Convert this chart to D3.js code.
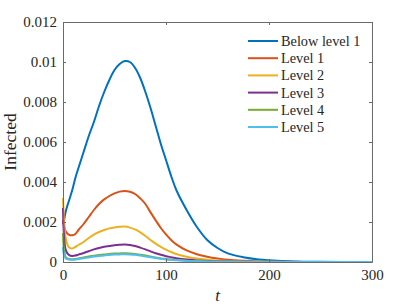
<!DOCTYPE html>
<html><head><meta charset="utf-8">
<script src="https://cdn.jsdelivr.net/npm/d3@7"></script>
<style>body{margin:0;background:#fff}svg{display:block}text{font-family:"Liberation Serif","Times New Roman",serif;fill:#262626}</style>
</head><body><svg id="c" width="411" height="308"></svg>
<script>
const tVals = [0,1,3,6,9,12,15,20,25,30,35,40,45,50,55,60,65,70,75,80,85,90,95,100,105,110,120,130,140,150,160,175,190,200,225,250,300];
const seriesNames = ["Below level 1","Level 1","Level 2","Level 3","Level 4","Level 5"];
const belowLevel1 = [0.0019,0.0021,0.0026,0.0031,0.0036,0.0042,0.0047,0.0055,0.0063,0.0070,0.0078,0.0085,0.0091,0.0096,0.0099,0.01005,0.0100,0.0097,0.0092,0.0085,0.0077,0.0068,0.0059,0.0051,0.0043,0.0036,0.0026,0.00175,0.0011,0.0007,0.00043,0.00024,0.00013,0.00009,0.00003,0.00001,0];
const level1 = [0.0021,0.0018,0.0015,0.00136,0.00134,0.0014,0.0016,0.0019,0.00225,0.0026,0.0029,0.00313,0.0033,0.00343,0.00352,0.00355,0.00351,0.0034,0.00318,0.0029,0.00248,0.00208,0.0017,0.00138,0.0011,0.00088,0.00058,0.00039,0.00026,0.00017,0.00011,0.00006,0.00003,0.00002,0.000007,0.000003,0];
const level2 = [0.0032,0.0021,0.0011,0.00072,0.00068,0.00075,0.00085,0.001,0.0012,0.00137,0.0015,0.0016,0.00168,0.00173,0.00176,0.00177,0.00172,0.00163,0.00148,0.0013,0.0011,0.00092,0.00076,0.00062,0.0005,0.0004,0.00026,0.00017,0.00011,0.00007,0.000045,0.000025,0.000012,0.000008,0.000003,0.000001,0];
const level3 = [0.0027,0.0013,0.00055,0.00034,0.0003,0.00032,0.00037,0.00045,0.00054,0.00063,0.0007,0.00076,0.0008,0.00084,0.00086,0.00087,0.00085,0.0008,0.00072,0.00063,0.00053,0.00044,0.00036,0.00029,0.00024,0.00019,0.00012,0.00008,0.00005,0.00003,0.00002,0.00001,0.000005,0.000003,0.000001,0,0];
const level4 = [0.00145,0.0006,0.00022,0.00015,0.00014,0.00015,0.00018,0.00022,0.00027,0.00031,0.00035,0.00038,0.0004,0.00042,0.00043,0.00044,0.00043,0.0004,0.00036,0.00032,0.00027,0.00022,0.00018,0.00015,0.00012,0.0001,0.00006,0.00004,0.000025,0.000015,0.00001,0.000005,0.000002,0.000001,0,0,0];
const level5 = [0.00075,0.00035,0.00016,0.00012,0.00011,0.00012,0.00015,0.00019,0.00023,0.00027,0.0003,0.00033,0.00035,0.00037,0.00038,0.00039,0.00038,0.00036,0.00032,0.00028,0.00024,0.0002,0.00016,0.00013,0.00011,0.00009,0.000055,0.000035,0.00002,0.000013,0.000008,0.000004,0.000002,0.000001,0,0,0];
const xTicks = [0,100,200,300];
const yTicks = [0,0.002,0.004,0.006,0.008,0.01,0.012];
const yTickLabels = ["0","0.002","0.004","0.006","0.008","0.01","0.012"];
const colors = ["#0072BD","#D95319","#EDB120","#7E2F8E","#77AC30","#4DBEEE"];
const allSeries = [belowLevel1,level1,level2,level3,level4,level5];

const L=63,R=372,T=22,B=262;
const svg=d3.select("#c");
const x=d3.scaleLinear().domain([0,300]).range([L,R]);
const y=d3.scaleLinear().domain([0,0.012]).range([B,T]);

svg.append("defs").append("clipPath").attr("id","cp").append("rect").attr("x",L-1).attr("y",T).attr("width",R-L+1).attr("height",B-T+1);
const line=d3.line().x((d,i)=>x(tVals[i])).y(d=>y(d)).curve(d3.curveCatmullRom.alpha(0.5));
const g=svg.append("g").attr("clip-path","url(#cp)");
allSeries.forEach((s,k)=>{
  g.append("path").attr("d",line(s)).attr("fill","none").attr("stroke",colors[k]).attr("stroke-width",2).attr("stroke-linejoin","round");
});

const axc="#262626";
const xa=svg.append("g").attr("transform",`translate(0,${B})`).call(d3.axisBottom(x).tickValues(xTicks).tickSizeInner(-3).tickSizeOuter(0).tickPadding(7));
const ya=svg.append("g").attr("transform",`translate(${L},0)`).call(d3.axisLeft(y).tickValues(yTicks).tickFormat((d,i)=>yTickLabels[i]).tickSizeInner(-3).tickSizeOuter(0).tickPadding(6));
const xt=svg.append("g").attr("transform",`translate(0,${T})`).call(d3.axisTop(x).tickValues(xTicks).tickFormat("").tickSizeInner(-3).tickSizeOuter(0));
const yr=svg.append("g").attr("transform",`translate(${R},0)`).call(d3.axisRight(y).tickValues(yTicks).tickFormat("").tickSizeInner(-3).tickSizeOuter(0));
[xa,ya,xt,yr].forEach(a=>{a.selectAll("path,line").attr("stroke","#6a6a6a").attr("stroke-width",1);a.selectAll("text").attr("font-size",15).attr("fill",axc).style("font-family","'Liberation Serif',serif");});

svg.append("text").attr("x",(L+R)/2).attr("y",301).attr("text-anchor","middle").attr("font-size",17).attr("font-style","italic").text("t");
svg.append("text").attr("transform",`translate(16,${(T+B)/2}) rotate(-90)`).attr("text-anchor","middle").attr("font-size",17.5).text("Infected");

const lg=svg.append("g");
seriesNames.forEach((n,k)=>{
  const yy=41+k*17.2;
  lg.append("line").attr("x1",248).attr("x2",278).attr("y1",yy).attr("y2",yy).attr("stroke",colors[k]).attr("stroke-width",2);
  lg.append("text").attr("x",281).attr("y",yy).attr("dy","0.35em").attr("font-size",14.3).text(n);
});
</script></body></html>
